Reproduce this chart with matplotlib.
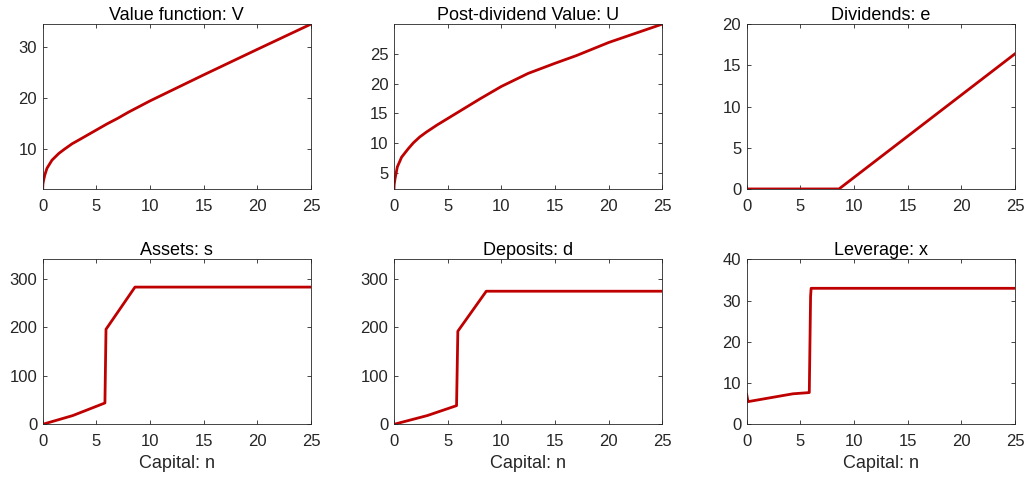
import numpy as np
import matplotlib
matplotlib.use("Agg")
import matplotlib.pyplot as plt

plt.rcParams["font.family"] = ["Liberation Sans", "DejaVu Sans"]

# value function V and post-dividend value U
n_v = [0, 0.02, 0.09, 0.2, 0.4, 0.87, 1.5, 2, 2.74, 3.5, 4, 5, 6, 7, 8, 9, 10, 15, 20, 25]
V = [2.25, 3.2, 4.0, 5.0, 6.3, 7.9, 9.2, 10.0, 11.1, 12.0, 12.6, 13.8, 15.0, 16.1,
     17.3, 18.4, 19.5, 24.6, 29.6, 34.55]

n_u = [0, 0.02, 0.09, 0.31, 0.71, 1.32, 1.8, 2.4, 3, 4, 5, 6, 8, 10, 12.5, 15, 17, 20, 25]
U = [2.25, 3.0, 3.9, 5.95, 7.6, 9.0, 10.0, 11.0, 11.8, 13.0, 14.1, 15.2, 17.4, 19.5,
     21.7, 23.4, 24.7, 26.9, 30.0]

n_e = [0, 8.6, 25]
e = [0, 0, 16.4]

n_s = [0, 2.8, 5.8, 5.9, 8.6, 25]
s = [0, 18, 44, 196, 283, 283]

n_d = [0, 3.1, 5.83, 5.95, 8.6, 25]
d = [0, 18, 38.5, 192, 274.5, 274.5]

n_x = [0, 0.12, 4.3, 5.83, 5.95, 6.0, 25]
x = [7.2, 5.5, 7.4, 7.7, 31, 33, 33]

panels = [
    ("Value function: V", n_v, V, (2.25, 34.55), [10, 20, 30]),
    ("Post-dividend Value: U", n_u, U, (2.25, 30.0), [5, 10, 15, 20, 25]),
    ("Dividends: e", n_e, e, (0, 20), [0, 5, 10, 15, 20]),
    ("Assets: s", n_s, s, (0, 340), [0, 100, 200, 300]),
    ("Deposits: d", n_d, d, (0, 340), [0, 100, 200, 300]),
    ("Leverage: x", n_x, x, (0, 40), [0, 10, 20, 30, 40]),
]

lefts = [0.0416, 0.384, 0.7278]
bottoms = [0.608, 0.1197]
w, h = 0.2615, 0.342

gray = (0.15, 0.15, 0.15)
fig = plt.figure(figsize=(10.26, 4.82), dpi=100)
for i, (title, xs, ys, ylim, yt) in enumerate(panels):
    r, c = divmod(i, 3)
    ax = fig.add_axes([lefts[c], bottoms[r], w, h])
    ax.plot(xs, ys, color=(0.75, 0, 0), lw=2.0, solid_joinstyle="round")
    ax.set_xlim(0, 25)
    ax.set_ylim(*ylim)
    ax.set_xticks([0, 5, 10, 15, 20, 25])
    ax.set_yticks(yt)
    ax.tick_params(direction="in", top=True, right=True, length=3, width=0.6,
                   labelsize=12, colors=gray)
    ax.tick_params(axis="x", pad=7)
    ax.tick_params(axis="y", pad=4)
    for sp in ax.spines.values():
        sp.set_color(gray)
        sp.set_linewidth(0.6)
    ax.set_title(title, fontsize=13, color="black", pad=3)
    if r == 1:
        ax.set_xlabel("Capital: n", fontsize=13, color=gray, labelpad=4)

fig.savefig("out.png", dpi=100)
plt.close()
